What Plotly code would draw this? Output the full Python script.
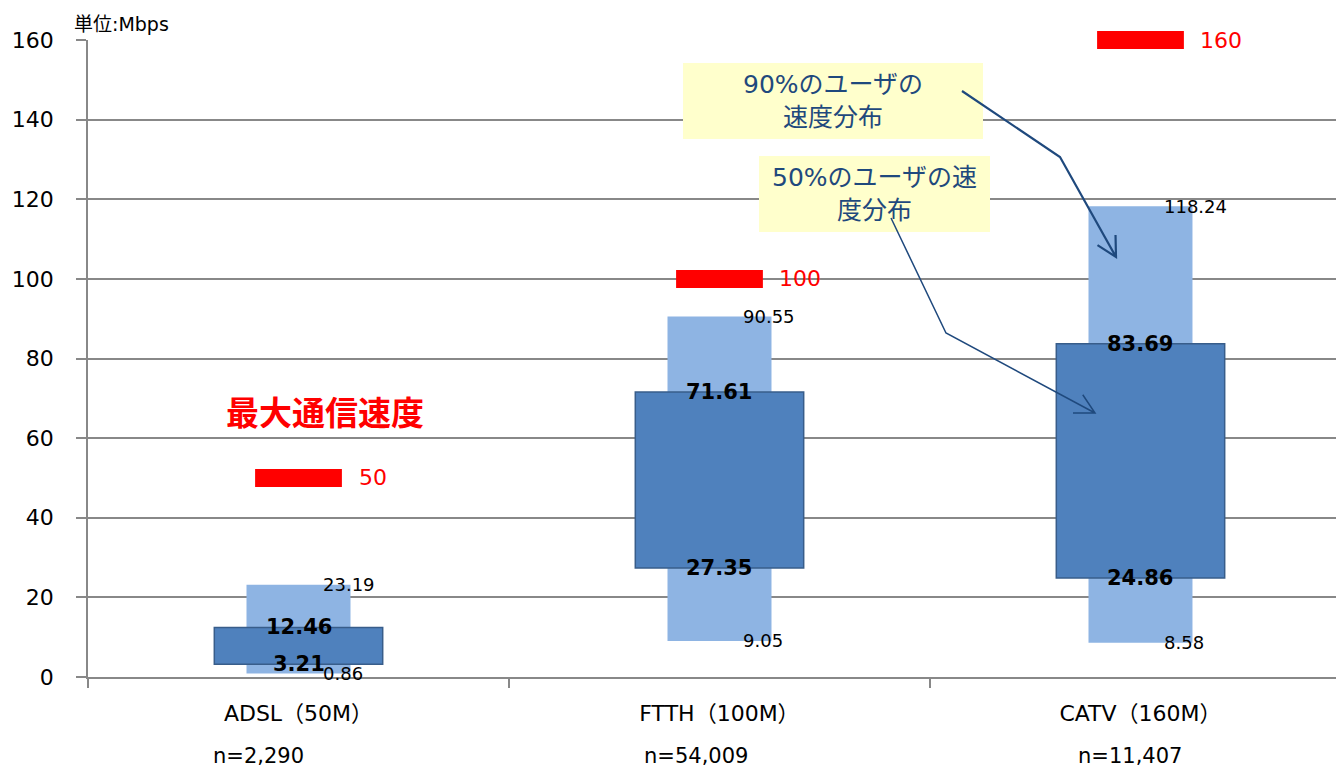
import math
import plotly.graph_objects as go

# ---- data -------------------------------------------------------------
categories = ["ADSL", "FTTH", "CATV"]
category_labels = ["ADSL（50M）", "FTTH（100M）", "CATV（160M）"]
sample_sizes = ["n=2,290", "n=54,009", "n=11,407"]

p90_low = [0.86, 9.05, 8.58]
p90_high = [23.19, 90.55, 118.24]
p50_low = [3.21, 27.35, 24.86]
p50_high = [12.46, 71.61, 83.69]
max_speed = [50, 100, 160]

# ---- styling ----------------------------------------------------------
FONT = "DejaVu Sans, Noto Sans CJK JP"
CJK = "Noto Sans CJK JP"
GRID = "#888888"
LIGHT = "#8eb4e3"
DARK = "#4f81bd"
DARK_EDGE = "#385d8a"
RED = "#ff0000"
NAVY = "#1f497d"

W, H = 1336, 770
L, R, T, B = 88, 0, 40, 93
PW, PH = W - L - R, H - T - B


def paper(px, py):
    """Pixel position on the page -> paper coordinates of the plot area."""
    return (px - L) / PW, (H - B - py) / PH


fig = go.Figure()

# 90% range (light bars)
fig.add_trace(go.Bar(
    x=categories,
    y=[h - l for h, l in zip(p90_high, p90_low)],
    base=p90_low,
    width=0.247,
    marker=dict(color=LIGHT, line=dict(width=0)),
    hoverinfo="skip",
))

# 50% range (dark bars)
fig.add_trace(go.Bar(
    x=categories,
    y=[h - l for h, l in zip(p50_high, p50_low)],
    base=p50_low,
    width=0.40,
    marker=dict(color=DARK, line=dict(color=DARK_EDGE, width=1.5)),
    hoverinfo="skip",
))

# maximum advertised speed: thick horizontal dash, not clipped at the top
fig.add_trace(go.Scatter(
    x=categories,
    y=max_speed,
    mode="markers",
    marker=dict(symbol="line-ew", size=62, color=RED,
                line=dict(color=RED, width=18)),
    cliponaxis=False,
    hoverinfo="skip",
))

annotations = []

# value labels
for cat, lo, hi in zip(categories, p90_low, p90_high):
    for v in (lo, hi):
        annotations.append(dict(
            x=cat, y=v, xref="x", yref="y", text=f"{v:.2f}",
            xanchor="left", yanchor="middle", xshift=22, showarrow=False,
            font=dict(family=FONT, size=18, color="#000000"),
        ))
for cat, lo, hi in zip(categories, p50_low, p50_high):
    for v in (lo, hi):
        annotations.append(dict(
            x=cat, y=v, xref="x", yref="y", text=f"<b>{v:.2f}</b>",
            xanchor="center", yanchor="middle", showarrow=False,
            font=dict(family=FONT, size=21, color="#000000"),
        ))
for cat, v in zip(categories, max_speed):
    annotations.append(dict(
        x=cat, y=v, xref="x", yref="y", text=str(v),
        xanchor="left", yanchor="middle", xshift=58, showarrow=False,
        font=dict(family=FONT, size=22, color=RED),
    ))

# sample size lines under the category labels
n_shift = [-40, -23, -10]
for cat, n, dx in zip(categories, sample_sizes, n_shift):
    annotations.append(dict(
        x=cat, y=0, xref="x", yref="paper", text=n,
        xanchor="center", yanchor="middle", yshift=-79, xshift=dx,
        showarrow=False, font=dict(family=FONT, size=21, color="#000000"),
    ))

# unit label
ux, uy = paper(72, 24)
annotations.append(dict(
    x=ux, y=uy, xref="paper", yref="paper", text="単位:Mbps",
    xanchor="left", yanchor="middle", showarrow=False,
    font=dict(family=FONT, size=19, color="#000000"),
))

# caption for the red markers
cx, cy = paper(325, 411)
annotations.append(dict(
    x=cx, y=cy, xref="paper", yref="paper", text="<b>最大通信速度</b>",
    xanchor="center", yanchor="middle", showarrow=False,
    font=dict(family=CJK, size=33, color=RED),
))

shapes = []

# callout boxes (background drawn as shapes so the arrows sit on top)
callouts = [
    (683, 63, 300, 76, "90%のユーザの<br>速度分布"),
    (759, 156, 231, 76, "50%のユーザの速<br>度分布"),
]
for (bx, by, bw, bh, txt) in callouts:
    x0, y1 = paper(bx, by)
    x1, y0 = paper(bx + bw, by + bh)
    shapes.append(dict(type="rect", xref="paper", yref="paper",
                       x0=x0, x1=x1, y0=y0, y1=y1,
                       fillcolor="#ffffcc", line=dict(width=0)))
    annotations.append(dict(
        x=(x0 + x1) / 2, y=(y0 + y1) / 2, xref="paper", yref="paper",
        text=txt, xanchor="center", yanchor="middle", align="center",
        showarrow=False, font=dict(family=FONT, size=25, color=NAVY),
    ))


# callout arrows: polyline plus an open arrowhead
def arrow_path(points, head=22, spread=28):
    pts = [paper(px, py) for px, py in points]
    d = "M " + " L ".join(f"{x},{y}" for x, y in pts)
    (x1, y1), (x2, y2) = points[-2], points[-1]
    ang = math.atan2(y1 - y2, x1 - x2)
    arms = []
    for s in (-1, 1):
        a = ang + s * math.radians(spread)
        arms.append(paper(x2 + head * math.cos(a), y2 + head * math.sin(a)))
    tip = paper(x2, y2)
    d += f" M {arms[0][0]},{arms[0][1]} L {tip[0]},{tip[1]} L {arms[1][0]},{arms[1][1]}"
    return d


shapes += [
    dict(type="path", xref="paper", yref="paper",
         path=arrow_path([(962, 91), (1060, 157), (1116, 257)]),
         line=dict(color=NAVY, width=2.2)),
    dict(type="path", xref="paper", yref="paper",
         path=arrow_path([(891, 218), (946, 333), (1095, 413)]),
         line=dict(color=NAVY, width=1.5)),
]

fig.update_layout(
    width=W, height=H,
    margin=dict(l=L, r=R, t=T, b=B),
    plot_bgcolor="#ffffff", paper_bgcolor="#ffffff",
    barmode="overlay", showlegend=False,
    font=dict(family=FONT, color="#000000"),
    annotations=annotations, shapes=shapes,
    xaxis=dict(
        type="category", range=[-0.5, 2.4644],
        tickmode="array", tickvals=categories, ticktext=category_labels,
        tickson="boundaries", ticks="outside", ticklen=9, tickwidth=1.5,
        tickcolor=GRID, showgrid=False, showline=True, linecolor=GRID,
        linewidth=1.5, ticklabelstandoff=16,
        tickfont=dict(family=FONT, size=22, color="#000000"),
    ),
    yaxis=dict(
        range=[0, 160], dtick=20, tick0=0,
        ticks="outside", ticklen=10, tickwidth=1.5, tickcolor=GRID,
        showgrid=True, gridcolor=GRID, gridwidth=1.5,
        showline=True, linecolor=GRID, linewidth=1.5, zeroline=False,
        ticklabelstandoff=18,
        tickfont=dict(family=FONT, size=22, color="#000000"),
    ),
)

fig.write_html("out.html")
